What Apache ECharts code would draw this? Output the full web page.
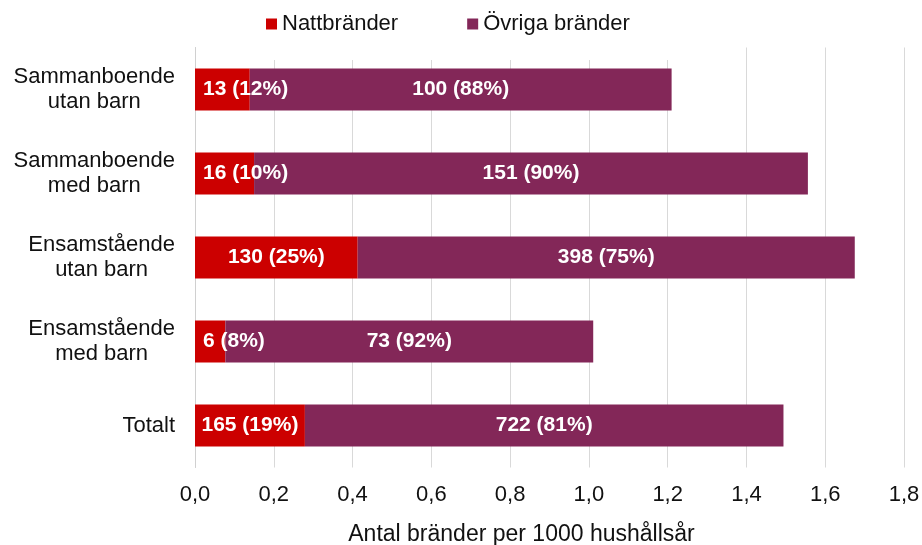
<!DOCTYPE html>
<html>
<head>
<meta charset="utf-8">
<script src="https://cdn.jsdelivr.net/npm/echarts@6/dist/echarts.min.js"></script>
<style>
  html, body { margin: 0; padding: 0; background: #fff; }
  #chart { width: 922px; height: 545px; }
</style>
</head>
<body>
<div id="chart"></div>
<script>
// kategorier (uppifrån och ned)
var categories = ['Sammanboende\nutan barn', 'Sammanboende\nmed barn', 'Ensamstående\nutan barn', 'Ensamstående\nmed barn', 'Totalt']
var seriesNames = ['Nattbränder', 'Övriga bränder']

// bränder per 1000 hushållsår
var nattRate = [0.139, 0.150, 0.413, 0.077, 0.279]
var ovrigaRate = [1.071, 1.406, 1.262, 0.934, 1.215]

// antal bränder och andel (etiketter)
var nattCount = [13, 16, 130, 6, 165]
var nattPct = [12, 10, 25, 8, 19]
var ovrigaCount = [100, 151, 398, 73, 722]
var ovrigaPct = [88, 90, 75, 92, 81]

var xTickLabels = ['0,0', '0,2', '0,4', '0,6', '0,8', '1,0', '1,2', '1,4', '1,6', '1,8']

var FONT = '"Liberation Sans", Arial, sans-serif'
var TEXT = '#111'

var chart = echarts.init(document.getElementById('chart'))

chart.setOption({
  animation: false,
  textStyle: { fontFamily: FONT },
  legend: {
    data: seriesNames,
    left: 236,
    top: 0,
    padding: [13, 60, 25, 30],
    backgroundColor: '#fff',
    icon: 'rect',
    itemWidth: 11,
    itemHeight: 11,
    itemGap: 69,
    textStyle: { fontSize: 22, color: TEXT, fontFamily: FONT }
  },
  grid: {
    left: 195,
    right: 18,
    top: 47.5,
    bottom: 77.5,
    containLabel: false,
    outerBoundsMode: 'none'
  },
  xAxis: {
    type: 'value',
    min: 0,
    max: 1.8,
    interval: 0.2,
    name: 'Antal bränder per 1000 hushållsår',
    nameLocation: 'middle',
    nameGap: 56,
    nameTextStyle: { fontSize: 23, color: TEXT, fontFamily: FONT, padding: [0, 56, 0, 0] },
    axisLine: { show: false },
    axisTick: { show: false },
    axisLabel: {
      margin: 16,
      fontSize: 22,
      color: TEXT,
      fontFamily: FONT,
      formatter: function (v) {
        return xTickLabels[Math.round(v / 0.2)]
      }
    },
    splitLine: { lineStyle: { color: '#D9D9D9', width: 1 } }
  },
  yAxis: {
    type: 'category',
    data: categories,
    inverse: true,
    axisTick: { show: false },
    axisLine: { show: true, lineStyle: { color: '#D0D0D0', width: 1 } },
    axisLabel: {
      margin: 20,
      align: 'right',
      formatter: function (v) {
        return v.split('\n').map(function (s) { return '{c|' + s + '}' }).join('\n')
      },
      rich: {
        c: { align: 'center', fontSize: 22, lineHeight: 25, color: TEXT, fontFamily: FONT }
      }
    }
  },
  series: [
    {
      name: seriesNames[0],
      type: 'bar',
      stack: 'total',
      barWidth: '50%',
      data: nattRate,
      itemStyle: { color: '#CC0000' },
      label: {
        show: true,
        position: 'inside',
        color: '#fff',
        fontSize: 21,
        fontWeight: 'bold',
        fontFamily: FONT,
        formatter: function (p) {
          return nattCount[p.dataIndex] + ' (' + nattPct[p.dataIndex] + '%)'
        }
      },
      // små staplar: flytta etiketten så den börjar strax innanför axeln
      labelLayout: function (params) {
        var start = params.rect.x + 8
        if (params.labelRect.x < start - 3) {
          return { dx: start - params.labelRect.x }
        }
        return {}
      }
    },
    {
      name: seriesNames[1],
      type: 'bar',
      stack: 'total',
      barWidth: '50%',
      data: ovrigaRate,
      itemStyle: { color: '#832758' },
      label: {
        show: true,
        position: 'inside',
        color: '#fff',
        fontSize: 21,
        fontWeight: 'bold',
        fontFamily: FONT,
        formatter: function (p) {
          return ovrigaCount[p.dataIndex] + ' (' + ovrigaPct[p.dataIndex] + '%)'
        }
      }
    }
  ]
})
</script>
</body>
</html>
